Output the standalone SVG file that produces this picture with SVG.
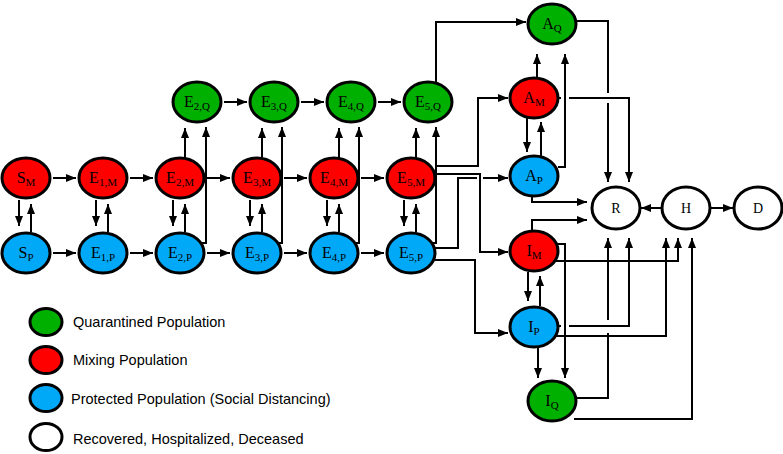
<svg xmlns="http://www.w3.org/2000/svg" width="783" height="454" viewBox="0 0 783 454">
<style>
.n{stroke:#000;stroke-width:3}
.m{fill:#FF0000}.p{fill:#00A9F8}.q{fill:#00B000}.w{fill:#FFFFFF}
.t{font-family:"Liberation Serif","Times New Roman",serif;font-size:16px;fill:#000;text-anchor:middle}
.s{font-size:11px}
.rt{font-family:"Liberation Serif","Times New Roman",serif;font-size:14px;fill:#000;text-anchor:middle}
.c path{fill:none;stroke:#000;stroke-width:2;marker-end:url(#ah)}
.c path.nm{marker-end:none}
.lg{font-family:"Liberation Sans",Arial,sans-serif;font-size:14.5px;fill:#000}
</style>
<defs>
<marker id="ah" viewBox="0 0 10 8" refX="10" refY="4" markerWidth="10" markerHeight="8" markerUnits="userSpaceOnUse" orient="auto"><path d="M0,0 L10,4 L0,8 z" fill="#000"/></marker>
</defs>

<g id="connectors" class="c">
<!-- M row horizontal -->
<path d="M53,178 H76"/><path d="M130,178 H153"/><path d="M207,178 H230"/><path d="M284,178 H307"/><path d="M361,178 H384"/>
<!-- P row horizontal -->
<path d="M53,253 H76"/><path d="M130,253 H153"/><path d="M207,253 H230"/><path d="M284,253 H307"/><path d="M361,253 H384"/>
<!-- Q row horizontal -->
<path d="M224,102 H247"/><path d="M301,102 H324"/><path d="M378,102 H401"/>
<!-- M<->P verticals -->
<path d="M19,200 V226"/><path d="M31,232 V204"/>
<path d="M96,200 V226"/><path d="M108,232 V204"/>
<path d="M173,200 V226"/><path d="M185,232 V204"/>
<path d="M250,200 V226"/><path d="M262,232 V204"/>
<path d="M327,200 V226"/><path d="M339,232 V204"/>
<path d="M404,200 V226"/><path d="M416,232 V204"/>
<!-- M->Q -->
<path d="M185,158 V128"/><path d="M262,158 V128"/><path d="M339,158 V128"/><path d="M416,158 V128"/>
<!-- P->Q -->
<path d="M200,243 H206 V127"/><path d="M277,243 H282 V127"/><path d="M354,243 H359 V127"/><path d="M431,243 H436 V127"/>
<!-- E5,Q -> AQ -->
<path d="M436,84 V22 H526"/>
<!-- E5 outgoing -->
<path d="M435,166 H478 V98 H508"/>
<path d="M435,174 H480 V252 H508"/>
<path d="M435,248 H458 V178 H477 M483,178 H508"/>
<path d="M435,260 H475 V333 H508"/>
<!-- A nodes -->
<path d="M537,78 V54"/>
<path d="M558,167 H565 V54"/>
<path d="M527,118 V152"/><path d="M541,156 V122"/>
<path d="M577,21 H608 V93 M608,103 V182"/>
<path d="M558,98 H561 M569,98 H629 V182"/>
<path d="M532,196 V202 H587"/>
<path d="M532,231 V220 H587"/>
<!-- R H D -->
<path d="M662,208 H641"/>
<path d="M710,208 H733"/>
<!-- I nodes -->
<path d="M528,272 V301"/><path d="M540,306 V276"/>
<path d="M557,244 H565 V378"/>
<path d="M556,261 H678 V238"/>
<path d="M558,326 H561 M569,326 H629 V238"/>
<path d="M556,336 H666 V238"/>
<path d="M538,348 V378"/>
<path d="M577,398 H608 V333 M608,320 V238"/>
<path d="M574,419 H692 V238"/>
</g>

<g id="S_M"><ellipse class="n m" cx="26" cy="178" rx="24" ry="20"/><text class="t" x="26" y="183">S<tspan class="s" dy="3">M</tspan></text></g>
<g id="S_P"><ellipse class="n p" cx="26" cy="253" rx="24" ry="20"/><text class="t" x="26" y="258">S<tspan class="s" dy="3">P</tspan></text></g>
<g id="E1M"><ellipse class="n m" cx="103" cy="178" rx="24" ry="20"/><text class="t" x="103" y="183">E<tspan class="s" dy="3">1,M</tspan></text></g>
<g id="E1P"><ellipse class="n p" cx="103" cy="253" rx="24" ry="20"/><text class="t" x="103" y="258">E<tspan class="s" dy="3">1,P</tspan></text></g>
<g id="E2M"><ellipse class="n m" cx="180" cy="178" rx="24" ry="20"/><text class="t" x="180" y="183">E<tspan class="s" dy="3">2,M</tspan></text></g>
<g id="E2P"><ellipse class="n p" cx="180" cy="253" rx="24" ry="20"/><text class="t" x="180" y="258">E<tspan class="s" dy="3">2,P</tspan></text></g>
<g id="E2Q"><ellipse class="n q" cx="197" cy="102" rx="24" ry="20"/><text class="t" x="197" y="107">E<tspan class="s" dy="3">2,Q</tspan></text></g>
<g id="E3M"><ellipse class="n m" cx="257" cy="178" rx="24" ry="20"/><text class="t" x="257" y="183">E<tspan class="s" dy="3">3,M</tspan></text></g>
<g id="E3P"><ellipse class="n p" cx="257" cy="253" rx="24" ry="20"/><text class="t" x="257" y="258">E<tspan class="s" dy="3">3,P</tspan></text></g>
<g id="E3Q"><ellipse class="n q" cx="274" cy="102" rx="24" ry="20"/><text class="t" x="274" y="107">E<tspan class="s" dy="3">3,Q</tspan></text></g>
<g id="E4M"><ellipse class="n m" cx="334" cy="178" rx="24" ry="20"/><text class="t" x="334" y="183">E<tspan class="s" dy="3">4,M</tspan></text></g>
<g id="E4P"><ellipse class="n p" cx="334" cy="253" rx="24" ry="20"/><text class="t" x="334" y="258">E<tspan class="s" dy="3">4,P</tspan></text></g>
<g id="E4Q"><ellipse class="n q" cx="351" cy="102" rx="24" ry="20"/><text class="t" x="351" y="107">E<tspan class="s" dy="3">4,Q</tspan></text></g>
<g id="E5M"><ellipse class="n m" cx="411" cy="178" rx="24" ry="20"/><text class="t" x="411" y="183">E<tspan class="s" dy="3">5,M</tspan></text></g>
<g id="E5P"><ellipse class="n p" cx="411" cy="253" rx="24" ry="20"/><text class="t" x="411" y="258">E<tspan class="s" dy="3">5,P</tspan></text></g>
<g id="E5Q"><ellipse class="n q" cx="428" cy="102" rx="24" ry="20"/><text class="t" x="428" y="107">E<tspan class="s" dy="3">5,Q</tspan></text></g>
<g id="AQ"><ellipse class="n q" cx="552" cy="24" rx="24" ry="20"/><text class="t" x="552" y="29">A<tspan class="s" dy="3">Q</tspan></text></g>
<g id="AM"><ellipse class="n m" cx="534" cy="98" rx="24" ry="20"/><text class="t" x="534" y="103">A<tspan class="s" dy="3">M</tspan></text></g>
<g id="AP"><ellipse class="n p" cx="534" cy="176" rx="24" ry="20"/><text class="t" x="534" y="181">A<tspan class="s" dy="3">P</tspan></text></g>
<g id="IM"><ellipse class="n m" cx="534" cy="251" rx="24" ry="20"/><text class="t" x="534" y="256">I<tspan class="s" dy="3">M</tspan></text></g>
<g id="IP"><ellipse class="n p" cx="534" cy="327" rx="24" ry="20"/><text class="t" x="534" y="332">I<tspan class="s" dy="3">P</tspan></text></g>
<g id="IQ"><ellipse class="n q" cx="552" cy="401" rx="24" ry="20"/><text class="t" x="552" y="406">I<tspan class="s" dy="3">Q</tspan></text></g>
<g id="R"><ellipse class="n w" cx="616" cy="208" rx="24" ry="21"/><text class="rt" x="616" y="213">R</text></g>
<g id="H"><ellipse class="n w" cx="686" cy="208" rx="24" ry="21"/><text class="rt" x="686" y="213">H</text></g>
<g id="D"><ellipse class="n w" cx="758" cy="208" rx="24" ry="21"/><text class="rt" x="758" y="213">D</text></g>

<g id="legend">
<ellipse class="n q" cx="46" cy="322" rx="16" ry="13.5"/><text class="lg" x="73" y="327">Quarantined Population</text>
<ellipse class="n m" cx="46" cy="360" rx="16" ry="13.5"/><text class="lg" x="73" y="365">Mixing Population</text>
<ellipse class="n p" cx="46" cy="398" rx="16" ry="13.5"/><text class="lg" x="71" y="404">Protected Population (Social Distancing)</text>
<ellipse class="n w" cx="46" cy="437" rx="16" ry="13.5"/><text class="lg" x="73" y="444">Recovered, Hospitalized, Deceased</text>
</g>
</svg>
